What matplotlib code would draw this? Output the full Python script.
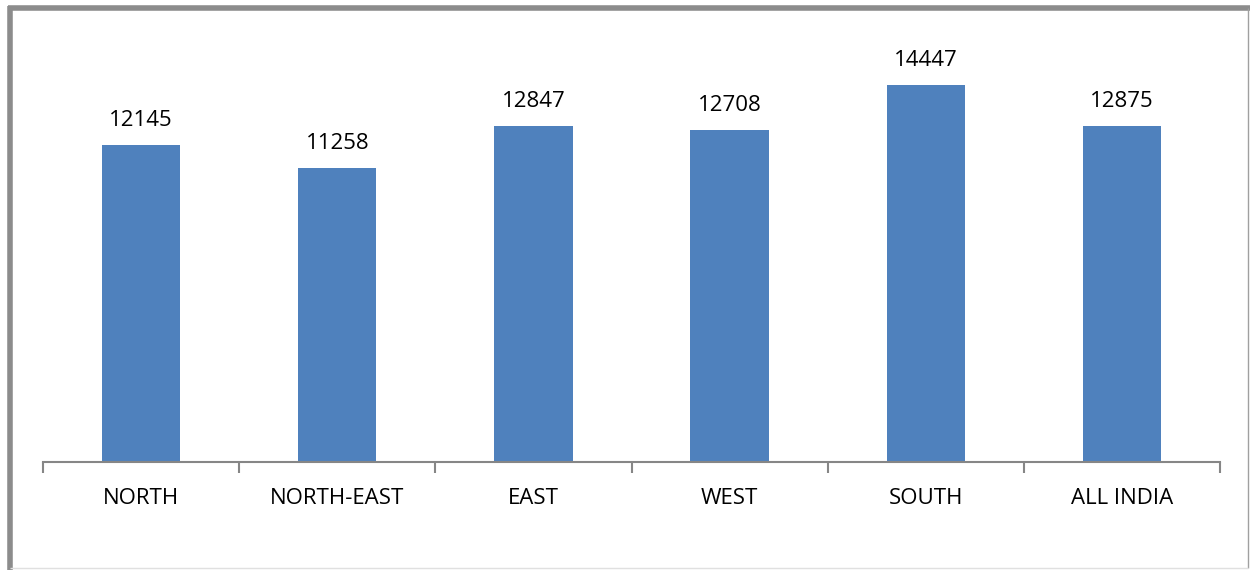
import matplotlib
matplotlib.use("Agg")
import matplotlib.pyplot as plt
from matplotlib.lines import Line2D

categories = ["NORTH", "NORTH-EAST", "EAST", "WEST", "SOUTH", "ALL INDIA"]
values = [12145, 11258, 12847, 12708, 14447, 12875]

W, H = 1250, 570
fig = plt.figure(figsize=(W / 100, H / 100), dpi=100)
fig.patch.set_facecolor("white")

ax = fig.add_axes([43 / W, 1 - 462 / H, (1220 - 43) / W, (462 - 44) / H])
x = list(range(len(categories)))
bars = ax.bar(x, values, width=0.4, color="#4F81BD", zorder=2)
ax.set_xlim(-0.5, len(categories) - 0.5)
ax.set_ylim(0, 16000)

for xi, v in zip(x, values):
    ax.annotate(str(v), (xi, v), xytext=(0, 10), textcoords="offset points",
                ha="center", va="bottom", fontsize=16, family="Open Sans", color="black")

for s in ["top", "right", "left"]:
    ax.spines[s].set_visible(False)
ax.spines["bottom"].set_color("#868686")
ax.spines["bottom"].set_linewidth(1.5)
ax.set_yticks([])
ax.set_xticks([i - 0.5 for i in range(len(categories) + 1)], minor=False)
ax.set_xticklabels([""] * (len(categories) + 1))
ax.tick_params(axis="x", which="major", length=8, width=1.5, color="#868686")
ax.set_xticks(x, minor=True)
ax.set_xticklabels(categories, minor=True, fontsize=16, family="Open Sans")
ax.tick_params(axis="x", which="minor", length=0, pad=18.5)

# outer frame
def fl(x0, y0, x1, y1, lw, c):
    fig.add_artist(Line2D([x0 / W, x1 / W], [1 - y0 / H, 1 - y1 / H], lw=lw, color=c,
                          transform=fig.transFigure, solid_capstyle="butt"))

fl(8, 8, 1250, 8, 4, "#8C8C8C")
fl(10, 6, 10, 570, 4, "#8C8C8C")
fl(1248, 8, 1248, 568, 1, "#A0A0A0")
fl(10, 568, 1248, 568, 1, "#E0E0E0")

fig.savefig("out.png", dpi=100, facecolor="white")
